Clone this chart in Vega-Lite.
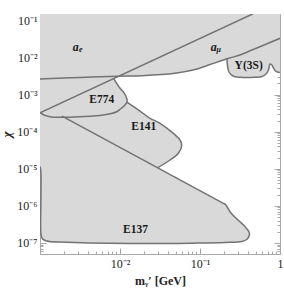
{
  "$schema": "https://vega.github.io/schema/vega-lite/v6.json",
  "width": 240,
  "height": 240,
  "autosize": {"type": "none"},
  "padding": {"left": 40, "top": 14, "right": 4, "bottom": 38},
  "config": {"view": {"stroke": null}, "font": "Liberation Serif"},
  "datasets": {
    "fills": [
      {"r": "top", "i": 0, "m": 0.001, "chi": 0.15},
      {"r": "top", "i": 1, "m": 0.001, "chi": 0.000325},
      {"r": "top", "i": 2, "m": 0.00944, "chi": 0.00314},
      {"r": "top", "i": 3, "m": 0.01884, "chi": 0.00324},
      {"r": "top", "i": 4, "m": 0.0487, "chi": 0.00376},
      {"r": "top", "i": 5, "m": 0.0866, "chi": 0.00476},
      {"r": "top", "i": 6, "m": 0.128, "chi": 0.0063},
      {"r": "top", "i": 7, "m": 0.2286, "chi": 0.00955},
      {"r": "top", "i": 8, "m": 0.3162, "chi": 0.01172},
      {"r": "top", "i": 9, "m": 0.4467, "chi": 0.016},
      {"r": "top", "i": 10, "m": 1, "chi": 0.0331},
      {"r": "top", "i": 11, "m": 1, "chi": 0.15},
      {"r": "e774", "i": 0, "m": 0.0083, "chi": 0.00274},
      {"r": "e774", "i": 1, "m": 0.01, "chi": 0.00148},
      {"r": "e774", "i": 2, "m": 0.01122, "chi": 0.00111},
      {"r": "e774", "i": 3, "m": 0.01213, "chi": 0.000796},
      {"r": "e774", "i": 4, "m": 0.01223, "chi": 0.000632},
      {"r": "e774", "i": 5, "m": 0.01155, "chi": 0.000525},
      {"r": "e774", "i": 6, "m": 0.0103, "chi": 0.000422},
      {"r": "e774", "i": 7, "m": 0.0091, "chi": 0.000346},
      {"r": "e774", "i": 8, "m": 0.00613, "chi": 0.000282},
      {"r": "e774", "i": 9, "m": 0.00316, "chi": 0.000254},
      {"r": "e774", "i": 10, "m": 0.00178, "chi": 0.000244},
      {"r": "e774", "i": 11, "m": 0.00133, "chi": 0.000254},
      {"r": "e774", "i": 12, "m": 0.00112, "chi": 0.000282},
      {"r": "e774", "i": 13, "m": 0.001, "chi": 0.000325},
      {"r": "e141", "i": 0, "m": 0.0122, "chi": 0.00063},
      {"r": "e141", "i": 1, "m": 0.01778, "chi": 0.000361},
      {"r": "e141", "i": 2, "m": 0.0237, "chi": 0.00023},
      {"r": "e141", "i": 3, "m": 0.0316, "chi": 0.000168},
      {"r": "e141", "i": 4, "m": 0.0464, "chi": 0.0000904},
      {"r": "e141", "i": 5, "m": 0.0562, "chi": 0.0000596},
      {"r": "e141", "i": 6, "m": 0.0591, "chi": 0.0000437},
      {"r": "e141", "i": 7, "m": 0.0536, "chi": 0.0000261},
      {"r": "e141", "i": 8, "m": 0.0422, "chi": 0.0000172},
      {"r": "e141", "i": 9, "m": 0.02944, "chi": 0.0000106},
      {"r": "e141", "i": 10, "m": 0.001884, "chi": 0.000262},
      {"r": "e141", "i": 11, "m": 0.00316, "chi": 0.000254},
      {"r": "e141", "i": 12, "m": 0.00613, "chi": 0.000282},
      {"r": "e141", "i": 13, "m": 0.0091, "chi": 0.000346},
      {"r": "e141", "i": 14, "m": 0.0103, "chi": 0.000422},
      {"r": "e141", "i": 15, "m": 0.01155, "chi": 0.000525},
      {"r": "e137", "i": 0, "m": 0.001, "chi": 0.000325},
      {"r": "e137", "i": 1, "m": 0.001884, "chi": 0.000262},
      {"r": "e137", "i": 2, "m": 0.1884, "chi": 0.00000122},
      {"r": "e137", "i": 3, "m": 0.2084, "chi": 0.00000108},
      {"r": "e137", "i": 4, "m": 0.2208, "chi": 0.000000898},
      {"r": "e137", "i": 5, "m": 0.244, "chi": 0.000000638},
      {"r": "e137", "i": 6, "m": 0.2985, "chi": 0.000000413},
      {"r": "e137", "i": 7, "m": 0.365, "chi": 0.000000276},
      {"r": "e137", "i": 8, "m": 0.41, "chi": 0.000000196},
      {"r": "e137", "i": 9, "m": 0.413, "chi": 0.000000158},
      {"r": "e137", "i": 10, "m": 0.387, "chi": 0.000000125},
      {"r": "e137", "i": 11, "m": 0.335, "chi": 0.000000109},
      {"r": "e137", "i": 12, "m": 0.2054, "chi": 0.000000102},
      {"r": "e137", "i": 13, "m": 0.0794, "chi": 0.000000098},
      {"r": "e137", "i": 14, "m": 0.01884, "chi": 0.000000096},
      {"r": "e137", "i": 15, "m": 0.00216, "chi": 0.000000104},
      {"r": "e137", "i": 16, "m": 0.00121, "chi": 0.000000112},
      {"r": "e137", "i": 17, "m": 0.00107, "chi": 0.000000129},
      {"r": "e137", "i": 18, "m": 0.001029, "chi": 0.000000172},
      {"r": "e137", "i": 19, "m": 0.001026, "chi": 0.00000143},
      {"r": "e137", "i": 20, "m": 0.001024, "chi": 0.00000867},
      {"r": "e137", "i": 21, "m": 0.001, "chi": 0.00000867},
      {"r": "y3s", "i": 0, "m": 0.2176, "chi": 0.0092},
      {"r": "y3s", "i": 1, "m": 0.2208, "chi": 0.00593},
      {"r": "y3s", "i": 2, "m": 0.2304, "chi": 0.00408},
      {"r": "y3s", "i": 3, "m": 0.2585, "chi": 0.00318},
      {"r": "y3s", "i": 4, "m": 0.3162, "chi": 0.00294},
      {"r": "y3s", "i": 5, "m": 0.487, "chi": 0.00294},
      {"r": "y3s", "i": 6, "m": 0.5957, "chi": 0.00308},
      {"r": "y3s", "i": 7, "m": 0.668, "chi": 0.0036},
      {"r": "y3s", "i": 8, "m": 0.718, "chi": 0.00462},
      {"r": "y3s", "i": 9, "m": 0.75, "chi": 0.0067},
      {"r": "y3s", "i": 10, "m": 0.783, "chi": 0.0065},
      {"r": "y3s", "i": 11, "m": 0.818, "chi": 0.00557},
      {"r": "y3s", "i": 12, "m": 0.866, "chi": 0.00448},
      {"r": "y3s", "i": 13, "m": 0.931, "chi": 0.00408},
      {"r": "y3s", "i": 14, "m": 1, "chi": 0.00395},
      {"r": "y3s", "i": 15, "m": 1, "chi": 0.0331},
      {"r": "y3s", "i": 16, "m": 0.4467, "chi": 0.016},
      {"r": "y3s", "i": 17, "m": 0.3162, "chi": 0.01172},
      {"r": "y3s", "i": 18, "m": 0.2286, "chi": 0.00955}
    ],
    "curves": [
      {"c": "L1", "i": 0, "m": 0.001, "chi": 0.00264},
      {"c": "L1", "i": 1, "m": 0.00316, "chi": 0.0029},
      {"c": "L1", "i": 2, "m": 0.00944, "chi": 0.00314},
      {"c": "L1", "i": 3, "m": 0.01884, "chi": 0.00324},
      {"c": "L1", "i": 4, "m": 0.0487, "chi": 0.00376},
      {"c": "L1", "i": 5, "m": 0.0866, "chi": 0.00476},
      {"c": "L1", "i": 6, "m": 0.128, "chi": 0.0063},
      {"c": "L1", "i": 7, "m": 0.2286, "chi": 0.00955},
      {"c": "L1", "i": 8, "m": 0.3162, "chi": 0.01172},
      {"c": "L1", "i": 9, "m": 0.4467, "chi": 0.016},
      {"c": "L1", "i": 10, "m": 1, "chi": 0.0331},
      {"c": "L2", "i": 0, "m": 0.001, "chi": 0.000325},
      {"c": "L2", "i": 1, "m": 0.46, "chi": 0.152},
      {"c": "E774", "i": 0, "m": 0.0083, "chi": 0.00274},
      {"c": "E774", "i": 1, "m": 0.01, "chi": 0.00148},
      {"c": "E774", "i": 2, "m": 0.01122, "chi": 0.00111},
      {"c": "E774", "i": 3, "m": 0.01213, "chi": 0.000796},
      {"c": "E774", "i": 4, "m": 0.01223, "chi": 0.000632},
      {"c": "E774", "i": 5, "m": 0.01155, "chi": 0.000525},
      {"c": "E774", "i": 6, "m": 0.0103, "chi": 0.000422},
      {"c": "E774", "i": 7, "m": 0.0091, "chi": 0.000346},
      {"c": "E774", "i": 8, "m": 0.00613, "chi": 0.000282},
      {"c": "E774", "i": 9, "m": 0.00316, "chi": 0.000254},
      {"c": "E774", "i": 10, "m": 0.00178, "chi": 0.000244},
      {"c": "E774", "i": 11, "m": 0.00133, "chi": 0.000254},
      {"c": "E774", "i": 12, "m": 0.00112, "chi": 0.000282},
      {"c": "E774", "i": 13, "m": 0.001, "chi": 0.000325},
      {"c": "E141", "i": 0, "m": 0.0122, "chi": 0.00063},
      {"c": "E141", "i": 1, "m": 0.01778, "chi": 0.000361},
      {"c": "E141", "i": 2, "m": 0.0237, "chi": 0.00023},
      {"c": "E141", "i": 3, "m": 0.0316, "chi": 0.000168},
      {"c": "E141", "i": 4, "m": 0.0464, "chi": 0.0000904},
      {"c": "E141", "i": 5, "m": 0.0562, "chi": 0.0000596},
      {"c": "E141", "i": 6, "m": 0.0591, "chi": 0.0000437},
      {"c": "E141", "i": 7, "m": 0.0536, "chi": 0.0000261},
      {"c": "E141", "i": 8, "m": 0.0422, "chi": 0.0000172},
      {"c": "E141", "i": 9, "m": 0.02944, "chi": 0.0000106},
      {"c": "E137", "i": 0, "m": 0.001884, "chi": 0.000262},
      {"c": "E137", "i": 1, "m": 0.1884, "chi": 0.00000122},
      {"c": "E137", "i": 2, "m": 0.2084, "chi": 0.00000108},
      {"c": "E137", "i": 3, "m": 0.2208, "chi": 0.000000898},
      {"c": "E137", "i": 4, "m": 0.244, "chi": 0.000000638},
      {"c": "E137", "i": 5, "m": 0.2985, "chi": 0.000000413},
      {"c": "E137", "i": 6, "m": 0.365, "chi": 0.000000276},
      {"c": "E137", "i": 7, "m": 0.41, "chi": 0.000000196},
      {"c": "E137", "i": 8, "m": 0.413, "chi": 0.000000158},
      {"c": "E137", "i": 9, "m": 0.387, "chi": 0.000000125},
      {"c": "E137", "i": 10, "m": 0.335, "chi": 0.000000109},
      {"c": "E137", "i": 11, "m": 0.2054, "chi": 0.000000102},
      {"c": "E137", "i": 12, "m": 0.0794, "chi": 0.000000098},
      {"c": "E137", "i": 13, "m": 0.01884, "chi": 0.000000096},
      {"c": "E137", "i": 14, "m": 0.00216, "chi": 0.000000104},
      {"c": "E137", "i": 15, "m": 0.00121, "chi": 0.000000112},
      {"c": "E137", "i": 16, "m": 0.00107, "chi": 0.000000129},
      {"c": "E137", "i": 17, "m": 0.001029, "chi": 0.000000172},
      {"c": "E137", "i": 18, "m": 0.001026, "chi": 0.00000143},
      {"c": "E137", "i": 19, "m": 0.001024, "chi": 0.00000867},
      {"c": "E137", "i": 20, "m": 0.001, "chi": 0.0000115},
      {"c": "Y3S", "i": 0, "m": 0.2176, "chi": 0.0092},
      {"c": "Y3S", "i": 1, "m": 0.2208, "chi": 0.00593},
      {"c": "Y3S", "i": 2, "m": 0.2304, "chi": 0.00408},
      {"c": "Y3S", "i": 3, "m": 0.2585, "chi": 0.00318},
      {"c": "Y3S", "i": 4, "m": 0.3162, "chi": 0.00294},
      {"c": "Y3S", "i": 5, "m": 0.487, "chi": 0.00294},
      {"c": "Y3S", "i": 6, "m": 0.5957, "chi": 0.00308},
      {"c": "Y3S", "i": 7, "m": 0.668, "chi": 0.0036},
      {"c": "Y3S", "i": 8, "m": 0.718, "chi": 0.00462},
      {"c": "Y3S", "i": 9, "m": 0.75, "chi": 0.0067},
      {"c": "Y3S", "i": 10, "m": 0.783, "chi": 0.0065},
      {"c": "Y3S", "i": 11, "m": 0.818, "chi": 0.00557},
      {"c": "Y3S", "i": 12, "m": 0.866, "chi": 0.00448},
      {"c": "Y3S", "i": 13, "m": 0.931, "chi": 0.00408},
      {"c": "Y3S", "i": 14, "m": 1, "chi": 0.00395}
    ],
    "labels": [
      {"name": "E774", "m": 0.00591, "chi": 0.000704},
      {"name": "E141", "m": 0.01984, "chi": 0.000136},
      {"name": "E137", "m": 0.01563, "chi": 0.000000229},
      {"name": "Υ(3S)", "m": 0.406, "chi": 0.006},
      {"name": "a", "sub": "e", "m": 0.0028, "chi": 0.0193},
      {"name": "a", "sub": "μ", "m": 0.1483, "chi": 0.0193}
    ]
  },
  "layer": [
    {
      "data": {"name": "fills"},
      "mark": {"type": "line", "fill": "#d9d9d9", "strokeOpacity": 0, "interpolate": "linear", "clip": true},
      "encoding": {
        "x": {"field": "m", "type": "quantitative", "scale": {"type": "log", "domain": [0.001, 1], "nice": false},
          "axis": {"orient": "bottom", "values": [0.01, 0.1, 1], "tickSize": -6, "labelPadding": 10, "grid": false,
            "labelExpr": "datum.value >= 0.99 ? '1' : '10⁻' + ['⁰','¹','²','³','⁴','⁵','⁶','⁷','⁸'][-round(log(datum.value)/LN10)]",
            "labelFont": "Liberation Serif", "labelFontSize": 12, "labelColor": "#222", "labelFlush": false,
            "domainColor": "#a8a8a8", "tickColor": "#a8a8a8",
            "title": "mᵧ′ [GeV]", "titleFont": "Liberation Serif", "titleFontSize": 12, "titleFontWeight": "bold", "titleColor": "#222", "titlePadding": 6}},
        "y": {"field": "chi", "type": "quantitative", "scale": {"type": "log", "domain": [0.00000005, 0.15], "nice": false},
          "axis": {"orient": "left", "values": [0.0000001, 0.000001, 0.00001, 0.0001, 0.001, 0.01, 0.1], "tickSize": -6, "labelPadding": 9, "grid": false,
            "labelExpr": "datum.value >= 0.99 ? '1' : '10⁻' + ['⁰','¹','²','³','⁴','⁵','⁶','⁷','⁸'][-round(log(datum.value)/LN10)]",
            "labelFont": "Liberation Serif", "labelFontSize": 12, "labelColor": "#222", "labelFlush": false,
            "domainColor": "#a8a8a8", "tickColor": "#a8a8a8",
            "title": "χ", "titleFont": "Liberation Serif", "titleFontSize": 13, "titleFontStyle": "italic", "titleFontWeight": "bold", "titleColor": "#222", "titlePadding": 3}},
        "detail": {"field": "r"},
        "order": {"field": "i", "type": "quantitative"}
      }
    },
    {
      "data": {"name": "curves"},
      "transform": [{"filter": "datum.c == 'L1' || datum.c == 'L2'"}],
      "mark": {"type": "line", "stroke": "#737373", "strokeWidth": 1.5, "interpolate": "catmull-rom", "clip": true},
      "encoding": {
        "x": {"field": "m", "type": "quantitative", "scale": {"type": "log", "domain": [0.001, 1], "nice": false},
          "axis": {"orient": "bottom", "values": [0.002, 0.003, 0.004, 0.005, 0.006, 0.007, 0.008, 0.009, 0.02, 0.03, 0.04, 0.05, 0.06, 0.07, 0.08, 0.09, 0.2, 0.3, 0.4, 0.5, 0.6, 0.7, 0.8, 0.9], "tickSize": -3, "labels": false, "domain": false, "grid": false, "title": null, "tickColor": "#a8a8a8"}},
        "y": {"field": "chi", "type": "quantitative", "scale": {"type": "log", "domain": [0.00000005, 0.15], "nice": false},
          "axis": {"orient": "left", "values": [0.00000005, 0.00000006, 0.00000007, 0.00000008, 0.00000009, 0.0000002, 0.0000003, 0.0000004, 0.0000005, 0.0000006, 0.0000007, 0.0000008, 0.0000009, 0.000002, 0.000003, 0.000004, 0.000005, 0.000006, 0.000007, 0.000008, 0.000009, 0.00002, 0.00003, 0.00004, 0.00005, 0.00006, 0.00007, 0.00008, 0.00009, 0.0002, 0.0003, 0.0004, 0.0005, 0.0006, 0.0007, 0.0008, 0.0009, 0.002, 0.003, 0.004, 0.005, 0.006, 0.007, 0.008, 0.009, 0.02, 0.03, 0.04, 0.05, 0.06, 0.07, 0.08, 0.09], "tickSize": -3, "labels": false, "domain": false, "grid": false, "title": null, "tickColor": "#a8a8a8"}},
        "detail": {"field": "c"},
        "order": {"field": "i", "type": "quantitative"}
      }
    },
    {
      "data": {"name": "curves"},
      "transform": [{"filter": "datum.c == 'E774' || datum.c == 'E141'"}],
      "mark": {"type": "line", "stroke": "#737373", "strokeWidth": 1.5, "interpolate": "catmull-rom", "clip": true},
      "encoding": {
        "x": {"field": "m", "type": "quantitative", "scale": {"type": "log", "domain": [0.001, 1], "nice": false},
          "axis": {"orient": "top", "values": [0.01, 0.1, 1], "tickSize": -6, "labels": false, "grid": false, "title": null, "domainColor": "#a8a8a8", "tickColor": "#a8a8a8"}},
        "y": {"field": "chi", "type": "quantitative", "scale": {"type": "log", "domain": [0.00000005, 0.15], "nice": false},
          "axis": {"orient": "right", "values": [0.0000001, 0.000001, 0.00001, 0.0001, 0.001, 0.01, 0.1], "tickSize": -6, "labels": false, "grid": false, "title": null, "domainColor": "#a8a8a8", "tickColor": "#a8a8a8"}},
        "detail": {"field": "c"},
        "order": {"field": "i", "type": "quantitative"}
      }
    },
    {
      "data": {"name": "curves"},
      "transform": [{"filter": "datum.c == 'E137' || datum.c == 'Y3S'"}],
      "mark": {"type": "line", "stroke": "#737373", "strokeWidth": 1.5, "interpolate": "catmull-rom", "clip": true},
      "encoding": {
        "x": {"field": "m", "type": "quantitative", "scale": {"type": "log", "domain": [0.001, 1], "nice": false},
          "axis": {"orient": "top", "values": [0.002, 0.003, 0.004, 0.005, 0.006, 0.007, 0.008, 0.009, 0.02, 0.03, 0.04, 0.05, 0.06, 0.07, 0.08, 0.09, 0.2, 0.3, 0.4, 0.5, 0.6, 0.7, 0.8, 0.9], "tickSize": -3, "labels": false, "domain": false, "grid": false, "title": null, "tickColor": "#a8a8a8"}},
        "y": {"field": "chi", "type": "quantitative", "scale": {"type": "log", "domain": [0.00000005, 0.15], "nice": false},
          "axis": {"orient": "right", "values": [0.00000005, 0.00000006, 0.00000007, 0.00000008, 0.00000009, 0.0000002, 0.0000003, 0.0000004, 0.0000005, 0.0000006, 0.0000007, 0.0000008, 0.0000009, 0.000002, 0.000003, 0.000004, 0.000005, 0.000006, 0.000007, 0.000008, 0.000009, 0.00002, 0.00003, 0.00004, 0.00005, 0.00006, 0.00007, 0.00008, 0.00009, 0.0002, 0.0003, 0.0004, 0.0005, 0.0006, 0.0007, 0.0008, 0.0009, 0.002, 0.003, 0.004, 0.005, 0.006, 0.007, 0.008, 0.009, 0.02, 0.03, 0.04, 0.05, 0.06, 0.07, 0.08, 0.09], "tickSize": -3, "labels": false, "domain": false, "grid": false, "title": null, "tickColor": "#a8a8a8"}},
        "detail": {"field": "c"},
        "order": {"field": "i", "type": "quantitative"}
      }
    },
    {
      "data": {"name": "labels"},
      "transform": [{"filter": "!datum.sub"}],
      "mark": {"type": "text", "font": "Liberation Serif", "fontSize": 11.5, "fontWeight": "bold", "color": "#1a1a1a", "align": "center", "baseline": "middle"},
      "encoding": {
        "x": {"field": "m", "type": "quantitative", "scale": {"type": "log", "domain": [0.001, 1], "nice": false}, "axis": null},
        "y": {"field": "chi", "type": "quantitative", "scale": {"type": "log", "domain": [0.00000005, 0.15], "nice": false}, "axis": null},
        "text": {"field": "name"}
      }
    },
    {
      "data": {"name": "labels"},
      "transform": [{"filter": "datum.sub"}],
      "mark": {"type": "text", "font": "Liberation Serif", "fontSize": 12, "fontWeight": "bold", "fontStyle": "italic", "color": "#1a1a1a", "align": "center", "baseline": "middle"},
      "encoding": {
        "x": {"field": "m", "type": "quantitative", "scale": {"type": "log", "domain": [0.001, 1], "nice": false}, "axis": null},
        "y": {"field": "chi", "type": "quantitative", "scale": {"type": "log", "domain": [0.00000005, 0.15], "nice": false}, "axis": null},
        "text": {"field": "name"}
      }
    },
    {
      "data": {"name": "labels"},
      "transform": [{"filter": "datum.sub"}],
      "mark": {"type": "text", "font": "Liberation Serif", "fontSize": 8, "fontWeight": "bold", "fontStyle": "italic", "color": "#1a1a1a", "align": "center", "baseline": "middle", "dx": 5, "dy": 3},
      "encoding": {
        "x": {"field": "m", "type": "quantitative", "scale": {"type": "log", "domain": [0.001, 1], "nice": false}, "axis": null},
        "y": {"field": "chi", "type": "quantitative", "scale": {"type": "log", "domain": [0.00000005, 0.15], "nice": false}, "axis": null},
        "text": {"field": "sub"}
      }
    }
  ],
  "resolve": {"axis": {"x": "independent", "y": "independent"}}
}
